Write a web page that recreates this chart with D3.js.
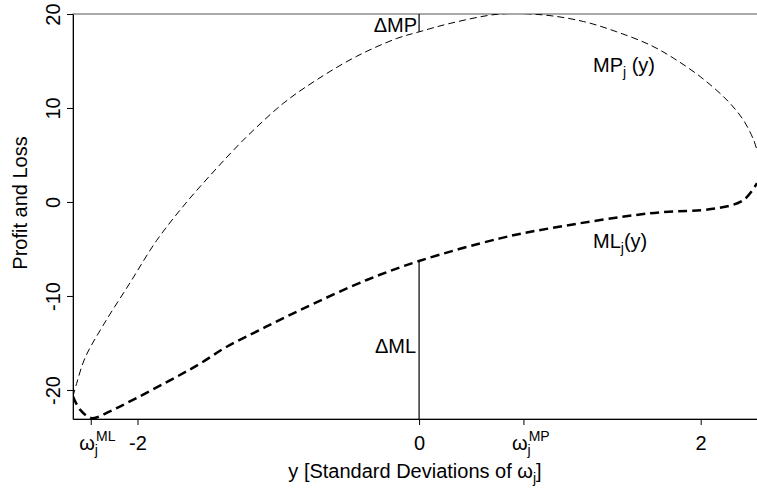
<!DOCTYPE html>
<html><head><meta charset="utf-8">
<script src="https://cdn.jsdelivr.net/npm/d3@7"></script>
<style>
body{margin:0;background:#fff}
text{font-family:"Liberation Sans",Arial,Helvetica,sans-serif;fill:#000}
</style>
</head><body>
<svg id="chart" width="757" height="493"></svg>
<script>
// ---- data ----
const mpX = [-2.458,-2.432,-2.373,-2.243,-2.053,-1.864,-1.65,-1.437,-1.319,-1.2,-0.964,-0.727,-0.443,-0.158,0,0.22,0.575,0.883,1.168,1.405,1.641,1.807,2.0,2.186,2.304,2.376,2.40];
const mpY = [-20.7,-19.3,-16.6,-13.1,-8.6,-4.1,0,3.6,5.5,7.3,10.5,13.0,15.5,17.4,18.1,19.0,20.0,19.9,19.2,18.1,16.7,15.3,13.3,10.85,8.7,6.6,5.5];
const mlX = [-2.458,-2.408,-2.325,-2.2,-2.077,-1.722,-1.556,-1.366,-1.13,-0.845,-0.372,0,0.575,0.93,1.64,2.115,2.304,2.40];
const mlY = [-20.7,-22.1,-23.0,-22.3,-21.4,-18.6,-17.2,-15.4,-13.6,-11.5,-8.3,-6.28,-3.87,-2.8,-1.2,-0.67,0.2,2.0];
const yTickValues = [-20,-10,0,10,20];
const xTickValues = [-2.332,-2,0,0.741,2];
const xTickLabels = ["ω|j|ML","-2","0","ω|j|MP","2"];
const xLim = [-2.458, 2.40];
const yLim = [-23.09, 20];
const deltaX = 0;

// ---- chart ----
const svg = d3.select("#chart");
const L = 73, R = 757, T = 14, B = 419;
const x = d3.scaleLinear().domain(xLim).range([L, R]);
const y = d3.scaleLinear().domain(yLim).range([B, T]);
const FS = 20, FS2 = 14;

svg.append("defs").append("clipPath").attr("id","clip")
  .append("rect").attr("x",L).attr("y",T).attr("width",R-L).attr("height",B-T);

// box
svg.append("rect").attr("x",L).attr("y",T).attr("width",R-L+10).attr("height",B-T)
  .attr("fill","none").attr("stroke","#555").attr("stroke-width",1);

// left axis
const ya = svg.append("g").attr("transform",`translate(${L},0)`)
  .call(d3.axisLeft(y).tickValues(yTickValues).tickSize(6).tickSizeOuter(0).tickFormat(d3.format("d")));
ya.select(".domain").attr("stroke","#000");
ya.selectAll(".tick line").attr("stroke","#000");
ya.selectAll(".tick text").attr("x",null).attr("dy",null)
  .attr("font-size",FS).attr("text-anchor","middle")
  .attr("transform","translate(-13,0) rotate(-90)")
  .text(d => d < 0 ? "-" + Math.abs(d) : d);

// bottom axis
const xa = svg.append("g").attr("transform",`translate(0,${B})`)
  .call(d3.axisBottom(x).tickValues(xTickValues).tickSize(6).tickSizeOuter(0).tickFormat(""));
xa.select(".domain").attr("stroke","#000");
xa.selectAll(".tick line").attr("stroke","#000");
xa.selectAll(".tick").each(function(d,i){
  const g = d3.select(this);
  const lab = xTickLabels[i];
  if (lab.indexOf("|") < 0) {
    g.append("text").attr("y",31).attr("text-anchor","middle").attr("font-size",FS).text(lab);
  } else {
    const [base, sub, sup] = lab.split("|");
    const t = g.append("text").attr("x",-12).attr("y",31).attr("text-anchor","start").attr("font-size",FS);
    t.append("tspan").text(base);
    t.append("tspan").attr("font-size",FS2).attr("dy",5).text(sub);
    t.append("tspan").attr("font-size",FS2).attr("dx",-2).attr("dy",-14).text(sup);
  }
});

// axis titles
const xt = svg.append("text").attr("x",415).attr("y",478).attr("text-anchor","middle").attr("font-size",FS);
xt.append("tspan").text("y [Standard Deviations of  ω");
xt.append("tspan").attr("font-size",FS2).attr("dy",5).text("j");
xt.append("tspan").attr("dy",-5).text("]");
svg.append("text").attr("transform","translate(27,203) rotate(-90)")
  .attr("text-anchor","middle").attr("font-size",FS).text("Profit and Loss");

// curves
const line = d3.line().x(d=>x(d[0])).y(d=>y(d[1])).curve(d3.curveCatmullRom.alpha(0.5));
const plot = svg.append("g").attr("clip-path","url(#clip)");
plot.append("path").datum(mpX.map((v,i)=>[v,mpY[i]])).attr("d",line)
  .attr("fill","none").attr("stroke","#000").attr("stroke-width",1).attr("stroke-dasharray","7,4");
plot.append("path").datum(mlX.map((v,i)=>[v,mlY[i]])).attr("d",line)
  .attr("fill","none").attr("stroke","#000").attr("stroke-width",2.5).attr("stroke-dasharray","9,5");

// delta segments at x = 0
const mp0 = mpY[mpX.indexOf(deltaX)], ml0 = mlY[mlX.indexOf(deltaX)];
svg.append("line").attr("x1",x(deltaX)).attr("x2",x(deltaX)).attr("y1",y(yLim[1])).attr("y2",y(mp0))
  .attr("stroke","#000").attr("stroke-width",1.2);
svg.append("line").attr("x1",x(deltaX)).attr("x2",x(deltaX)).attr("y1",y(ml0)).attr("y2",y(yLim[0]))
  .attr("stroke","#000").attr("stroke-width",1.2);
svg.append("text").attr("x",x(deltaX)-2).attr("y",y(mp0)).attr("text-anchor","end").attr("font-size",FS).text("ΔMP");
svg.append("text").attr("x",x(deltaX)-3).attr("y",353).attr("text-anchor","end").attr("font-size",FS).text("ΔML");

// curve labels
function curveLabel(px, py, main, tail){
  const t = svg.append("text").attr("x",px).attr("y",py).attr("font-size",FS);
  t.append("tspan").text(main);
  t.append("tspan").attr("font-size",FS2).attr("dy",5).text("j");
  t.append("tspan").attr("dy",-5).text(tail);
}
curveLabel(593, 72, "MP", " (y)");
curveLabel(593, 248, "ML", "(y)");
</script>
</body></html>
